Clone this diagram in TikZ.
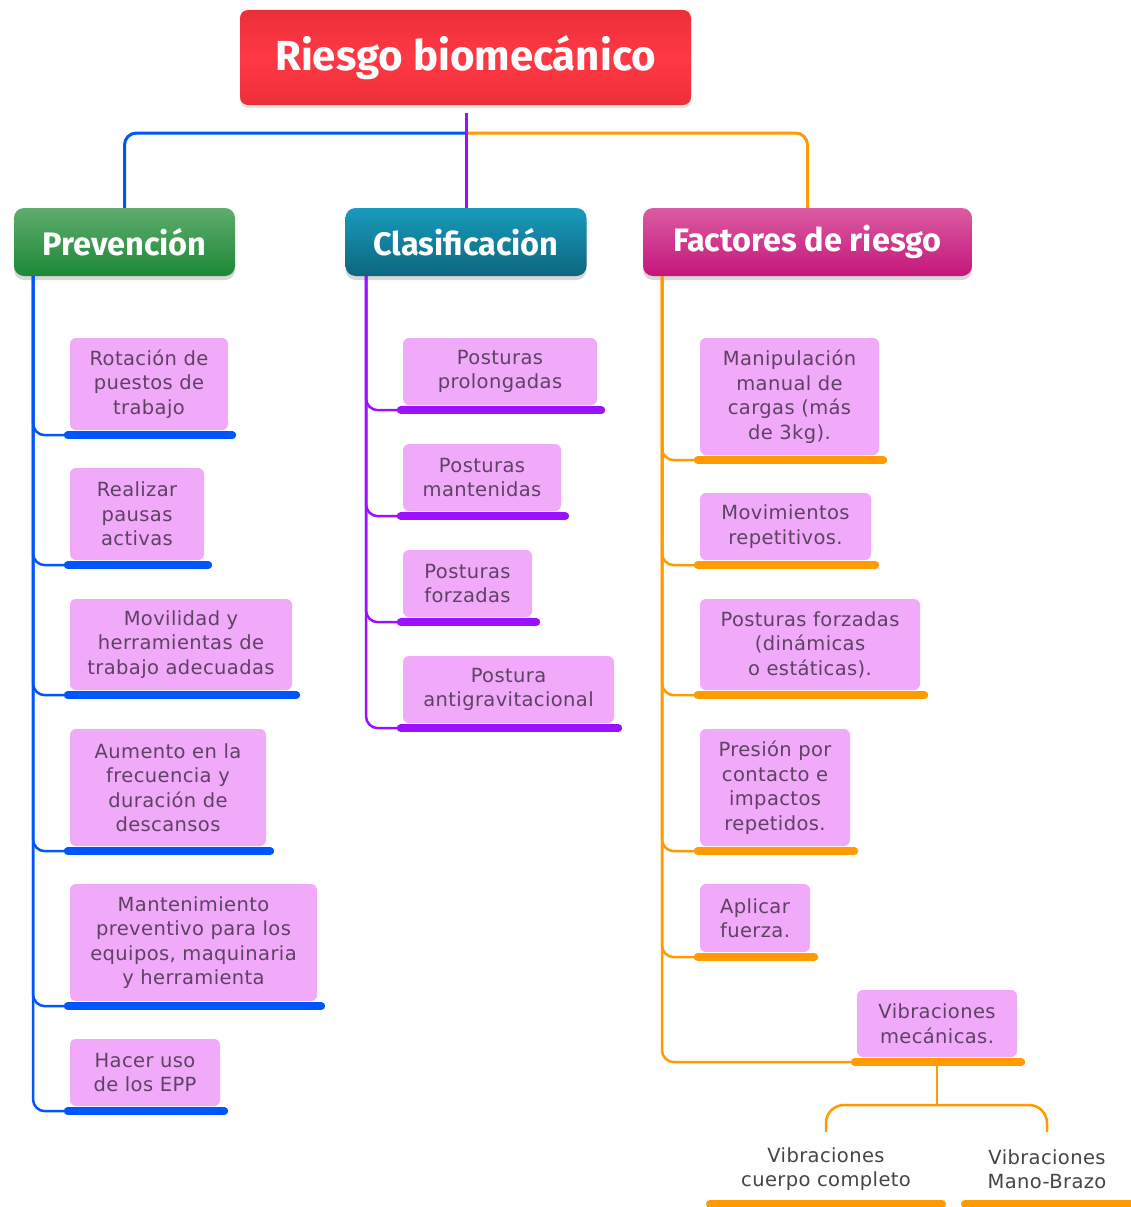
\documentclass[tikz,border=0pt]{standalone}
\usepackage{fontspec}
\setmainfont{DejaVu Sans}[LetterSpace=2]
\newfontfamily\headfont{Fira Sans}
\usetikzlibrary{shadows}
\definecolor{bluec}{HTML}{0055FF}
\definecolor{purplec}{HTML}{9B10FF}
\definecolor{orangec}{HTML}{FF9A00}
\definecolor{leafpink}{HTML}{F1A9F9}
\definecolor{leaftext}{HTML}{5E4263}
\definecolor{darktext}{HTML}{454545}
\definecolor{rootedge}{HTML}{EC2F3A}
\definecolor{rootmid}{HTML}{FF3844}
\tikzset{
  leaf/.style={rectangle, rounded corners=6pt, fill=leafpink, text=leaftext, align=center, inner sep=0pt, font=\fontsize{19.5}{24.5}\selectfont},
  plain/.style={text=darktext, align=center, inner sep=0pt, font=\fontsize{19.5}{24.5}\selectfont},
  head/.style={rectangle, rounded corners=10pt, text=white, inner sep=0pt, font=\headfont\bfseries\fontsize{32.5}{36}\selectfont, drop shadow={opacity=0.3, shadow xshift=0pt, shadow yshift=-4pt}},
  ubar/.style={line width=8pt, line cap=round},
  branch/.style={line width=2.5pt, rounded corners=12pt},
}
% \leafbox{name}{cx}{cy}{w}{h}{colour}{spine coordinate}{text}
\newcommand\leafbox[8]{%
  \node[leaf, minimum width=#4pt, minimum height=#5pt] (#1) at (#2,#3) {#8};
  \coordinate (#1u) at ([xshift=-2pt,yshift=-5pt]#1.south west);
  \coordinate (#1e) at ([xshift=4pt,yshift=-5pt]#1.south east);
  \draw[branch, #6] (#7) |- (#1u);
  \draw[ubar, #6] (#1u) -- (#1e);
}
\begin{document}
\begin{tikzpicture}[x=1pt,y=-1pt]
\useasboundingbox[fill=white] (0,0) rectangle (1131,1207);

% root
\node[rectangle, rounded corners=8pt, minimum width=451pt, minimum height=95pt, top color=rootedge, bottom color=rootedge, middle color=rootmid, text=white, font=\headfont\bfseries\fontsize{42}{46}\selectfont, drop shadow={opacity=0.2, shadow xshift=0pt, shadow yshift=-3pt}] (root) at (465.5,57.5) {\raisebox{-3pt}{Riesgo biomecánico}};

% headers
\node[head, minimum width=221pt, minimum height=68pt, top color={rgb,255:red,95;green,172;blue,110}, bottom color={rgb,255:red,28;green,136;blue,54}] (prev) at (124.5,242) {Prevención};
\node[head, minimum width=241pt, minimum height=68pt, top color={rgb,255:red,24;green,155;blue,188}, bottom color={rgb,255:red,14;green,102;blue,126}] (clas) at (466,242) {Clasificación};
\node[head, minimum width=329pt, minimum height=68pt, top color={rgb,255:red,218;green,92;blue,162}, bottom color={rgb,255:red,196;green,22;blue,122}] (fact) at (807.5,242) {Factores de riesgo};

% top connectors
\coordinate (rs) at (466,113);
\coordinate (hub) at (466,133);
\draw[line width=3pt, bluec, rounded corners=12pt] (hub) -| (prev.north);
\draw[line width=3pt, orangec, rounded corners=12pt] (hub) -| (fact.north);
\draw[line width=3pt, purplec] (rs) -- (clas.north);

% spines
\coordinate (ps) at (33,276);
\coordinate (cs) at (366,276);
\coordinate (fs) at (662,276);

% Prevencion
\leafbox{p1}{149}{384}{158}{92}{bluec}{ps}{Rotación de\\puestos de\\trabajo}
\leafbox{p2}{137}{514}{134}{92}{bluec}{ps}{Realizar\\pausas\\activas}
\leafbox{p3}{181}{644.5}{222}{91}{bluec}{ps}{Movilidad y\\herramientas de\\trabajo adecuadas}
\leafbox{p4}{168}{787.5}{196}{117}{bluec}{ps}{Aumento en la\\frecuencia y\\duración de\\descansos}
\leafbox{p5}{193.5}{942.5}{247}{117}{bluec}{ps}{Mantenimiento\\preventivo para los\\equipos, maquinaria\\y herramienta}
\leafbox{p6}{145}{1072.5}{150}{67}{bluec}{ps}{Hacer uso\\de los EPP}

% Clasificacion
\leafbox{c1}{500}{371.5}{194}{67}{purplec}{cs}{Posturas\\prolongadas}
\leafbox{c2}{482}{477.5}{158}{67}{purplec}{cs}{Posturas\\mantenidas}
\leafbox{c3}{467.5}{583.5}{129}{67}{purplec}{cs}{Posturas\\forzadas}
\leafbox{c4}{508.5}{689.5}{211}{67}{purplec}{cs}{Postura\\antigravitacional}

% Factores
\leafbox{f1}{789.5}{396.5}{179}{117}{orangec}{fs}{Manipulación\\manual de\\cargas (más\\de 3kg).}
\leafbox{f2}{785.5}{526.5}{171}{67}{orangec}{fs}{Movimientos\\repetitivos.}
\leafbox{f3}{810}{644.5}{220}{91}{orangec}{fs}{Posturas forzadas\\(dinámicas\\o estáticas).}
\leafbox{f4}{775}{787.5}{150}{117}{orangec}{fs}{Presión por\\contacto e\\impactos\\repetidos.}
\leafbox{f5}{755}{918}{110}{68}{orangec}{fs}{Aplicar\\fuerza.}
\leafbox{f6}{937}{1023.5}{160}{67}{orangec}{fs}{Vibraciones\\mecánicas.}

% vibraciones sub-branches
\coordinate (vm) at ([yshift=-5pt]f6.south);
\coordinate (vj) at (937,1105);
\node[plain] (b1) at (826,1169) {Vibraciones\\cuerpo completo};
\node[plain] (b2) at (1047,1169) {Vibraciones\\Mano-Brazo};
\coordinate (b1t) at (826,1132);
\coordinate (b2t) at (1047,1132);
\draw[line width=2.5pt, orangec] (vm) -- (vj);
\draw[line width=2.5pt, orangec, rounded corners=18pt] (vj) -| (b1t);
\draw[line width=2.5pt, orangec, rounded corners=18pt] (vj) -| (b2t);
\coordinate (b1u) at (710,1204);
\coordinate (b1e) at (942,1204);
\coordinate (b2u) at (965,1204);
\coordinate (b2e) at (1140,1204);
\draw[ubar, orangec] (b1u) -- (b1e);
\draw[ubar, orangec] (b2u) -- (b2e);
\end{tikzpicture}
\end{document}
